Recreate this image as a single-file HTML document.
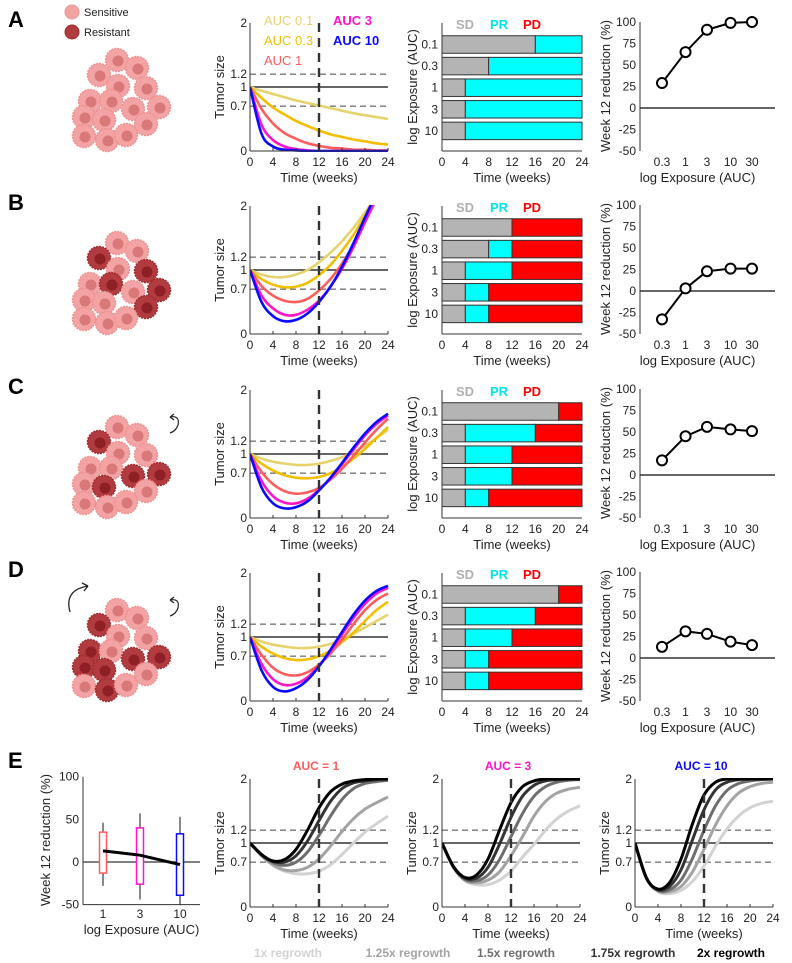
<!DOCTYPE html>
<html><head><meta charset="utf-8"><style>
html,body{margin:0;padding:0;background:#fff}
svg{display:block;font-family:"Liberation Sans",sans-serif}
</style></head><body>
<svg id="fig" width="792" height="963" viewBox="0 0 792 963" xmlns="http://www.w3.org/2000/svg"></svg>
<script>
// ---------- DATA ----------
const weeks = [0,2,4,6,8,10,12,14,16,18,20,22,24];
const aucLabels = ["AUC 0.1","AUC 0.3","AUC 1","AUC 3","AUC 10"];
const expCats = ["0.1","0.3","1","3","10"];
const redX = [0.3,1,3,10,30];
const redTicks = [100,75,50,25,0,-25,-50];
const tumorTicks = [0,0.7,1,1.2,2];
const timeTicks = [0,4,8,12,16,20,24];
// Row A
const tumorA_01 = [1,.94,.89,.84,.79,.75,.71,.67,.63,.59,.56,.53,.50];
const tumorA_03 = [1,.83,.68,.57,.47,.39,.32,.26,.22,.18,.15,.12,.10];
const tumorA_1  = [1,.66,.43,.28,.19,.12,.08,.05,.04,.02,.02,.01,.01];
const tumorA_3  = [1,.41,.17,.07,.03,.01,0,0,0,0,0,0,0];
const tumorA_10 = [1,.27,.07,.02,.01,0,0,0,0,0,0,0,0];
// Row B
const tumorB_01 = [1,.93,.89,.89,.93,1.0,1.12,1.27,1.45,1.66,1.9,2.15,2.4];
const tumorB_03 = [1,.86,.77,.73,.74,.8,.92,1.08,1.3,1.55,1.85,2.15,2.45];
const tumorB_1  = [1,.75,.6,.52,.5,.55,.68,.86,1.1,1.4,1.75,2.1,2.45];
const tumorB_3  = [1,.6,.4,.3,.3,.38,.52,.74,1.02,1.36,1.75,2.15,2.5];
const tumorB_10 = [1,.5,.28,.2,.22,.32,.5,.74,1.05,1.42,1.82,2.2,2.55];
// Row C
const tumorC_01 = [1,.93,.88,.85,.83,.83,.85,.89,.95,1.03,1.13,1.25,1.38];
const tumorC_03 = [1,.85,.74,.67,.63,.62,.64,.7,.8,.93,1.08,1.25,1.42];
const tumorC_1  = [1,.72,.53,.42,.38,.4,.47,.6,.77,.97,1.18,1.38,1.55];
const tumorC_3  = [1,.58,.34,.24,.23,.3,.44,.62,.84,1.07,1.29,1.47,1.6];
const tumorC_10 = [1,.48,.23,.15,.17,.26,.43,.63,.86,1.1,1.32,1.5,1.63];
// Row D
const tumorD_01 = [1,.93,.88,.85,.83,.83,.85,.89,.96,1.05,1.15,1.25,1.35];
const tumorD_03 = [1,.85,.74,.67,.64,.65,.7,.79,.92,1.07,1.25,1.42,1.55];
const tumorD_1  = [1,.72,.52,.42,.4,.45,.57,.74,.96,1.2,1.42,1.58,1.68];
const tumorD_3  = [1,.58,.34,.25,.27,.37,.55,.78,1.04,1.3,1.52,1.68,1.77];
const tumorD_10 = [1,.48,.22,.15,.2,.33,.54,.8,1.08,1.35,1.57,1.72,1.8];
// Response bars (weeks): SD ends, PR ends (PD rest)
const sdEndA = [16,8,4,4,4], prEndA = [24,24,24,24,24];
const sdEndB = [12,8,4,4,4], prEndB = [12,12,12,8,8];
const sdEndC = [20,4,4,4,4], prEndC = [20,16,12,12,8];
const sdEndD = [20,4,4,4,4], prEndD = [20,16,12,8,8];
// Week-12 reduction (%)
const redA = [29,65,91,99,100];
const redB = [-33,3,23,26,26];
const redC = [17,45,56,53,51];
const redD = [13,31,28,19,15];
// Row E box plot
const boxCats = ["1","3","10"];
const boxQ1 = [-13,-26,-39], boxQ3 = [35,40,33];
const boxLo = [-28,-44,-50], boxHi = [46,57,53];
const boxMean = [13,8,-3];
const boxTicks = [100,50,0,-50];
// Row E regrowth curves
const regrowLabels = ["1x regrowth","1.25x regrowth","1.5x regrowth","1.75x regrowth","2x regrowth"];
const e1_1x  = [1,.8,.65,.56,.52,.52,.56,.66,.82,1.0,1.17,1.3,1.42];
const e1_125 = [1,.8,.66,.58,.57,.62,.75,.95,1.18,1.38,1.53,1.63,1.72];
const e1_15  = [1,.81,.69,.65,.7,.86,1.12,1.42,1.68,1.85,1.93,1.96,1.98];
const e1_175 = [1,.82,.71,.7,.8,1.03,1.35,1.65,1.85,1.94,1.97,1.99,2];
const e1_2   = [1,.82,.72,.74,.9,1.2,1.55,1.8,1.92,1.97,1.99,2,2];
const e3_1x  = [1,.62,.41,.35,.35,.42,.56,.78,.98,1.2,1.38,1.5,1.58];
const e3_125 = [1,.62,.42,.38,.42,.55,.8,1.1,1.42,1.65,1.78,1.84,1.87];
const e3_15  = [1,.62,.43,.41,.5,.74,1.1,1.46,1.73,1.88,1.95,1.98,1.99];
const e3_175 = [1,.63,.45,.45,.62,.98,1.4,1.73,1.9,1.97,1.99,2,2];
const e3_2   = [1,.63,.46,.5,.75,1.2,1.63,1.88,1.97,2,2,2,2];
const e10_1x  = [1,.45,.24,.21,.26,.4,.64,.95,1.22,1.42,1.55,1.62,1.65];
const e10_125 = [1,.45,.25,.24,.32,.55,.9,1.28,1.58,1.78,1.88,1.93,1.95];
const e10_15  = [1,.45,.26,.27,.42,.76,1.2,1.58,1.82,1.93,1.97,1.99,2];
const e10_175 = [1,.45,.27,.32,.58,1.05,1.52,1.83,1.95,1.99,2,2,2];
const e10_2   = [1,.45,.28,.38,.75,1.3,1.75,1.95,2,2,2,2,2];

// ---------- STYLE ----------
const aucColors = ["#e6d36e","#f2bf00","#ff5c5c","#ff14c8","#0a0aff"];
const greyColors = ["#d2d2d2","#a3a3a3","#6e6e6e","#333333","#000000"];
const NS = "http://www.w3.org/2000/svg";
const svg = document.getElementById('fig');
let clipId = 0;
function mk(tag, attrs, parent, name, inter){
  const el = document.createElementNS(NS, tag);
  for (const k in attrs) el.setAttribute(k, attrs[k]);
  
  
  (parent || svg).appendChild(el);
  return el;
}
function txt(x,y,s,opts,parent,name){
  const a = Object.assign({x:x,y:y,'font-size':12,fill:'#222'}, opts||{});
  const t = mk('text', a, parent, name);
  t.textContent = s;
  return t;
}
function smoothPath(pts){
  let d = 'M'+pts[0][0].toFixed(1)+','+pts[0][1].toFixed(1);
  for (let i=0;i<pts.length-1;i++){
    const p0=pts[Math.max(0,i-1)],p1=pts[i],p2=pts[i+1],p3=pts[Math.min(pts.length-1,i+2)];
    const c1=[p1[0]+(p2[0]-p0[0])/6,p1[1]+(p2[1]-p0[1])/6];
    const c2=[p2[0]-(p3[0]-p1[0])/6,p2[1]-(p3[1]-p1[1])/6];
    d+=' C'+c1[0].toFixed(1)+','+c1[1].toFixed(1)+' '+c2[0].toFixed(1)+','+c2[1].toFixed(1)+' '+p2[0].toFixed(1)+','+p2[1].toFixed(1);
  }
  return d;
}

// ---------- TUMOR PLOT ----------
function tumorPlot(ox, y0, series, colors, name, title, titleColor, legend, lw){
  const g = mk('g', {}, svg, name);
  const W = 138, U = 64;
  const xs = t => ox + t/24*W;
  const ys = v => y0 - v*U;
  const id = 'c'+(clipId++);
  const cp = mk('clipPath', {id:id}, g, 'clip');
  mk('rect', {x:ox, y:ys(2)-1, width:W+2, height:2*U+2}, cp, 'clip-rect');
  mk('line', {x1:ox,x2:ox+W,y1:ys(1.2),y2:ys(1.2),stroke:'#777','stroke-width':1.3,'stroke-dasharray':'6,4'}, g, 'threshold-1-2');
  mk('line', {x1:ox,x2:ox+W,y1:ys(0.7),y2:ys(0.7),stroke:'#777','stroke-width':1.3,'stroke-dasharray':'6,4'}, g, 'threshold-0-7');
  mk('line', {x1:ox,x2:ox+W,y1:ys(1),y2:ys(1),stroke:'#333','stroke-width':1.5}, g, 'baseline-1');
  const cg = mk('g', {'clip-path':'url(#'+id+')'}, g, 'curves');
  series.forEach((s,i)=>{
    const pts = weeks.map((t,j)=>[xs(t), ys(s[j])]);
    mk('path', {d:smoothPath(pts), fill:'none', stroke:colors[i], 'stroke-width':lw||2.6}, cg, 'curve-'+i);
  });
  mk('line', {x1:xs(12),x2:xs(12),y1:ys(2),y2:y0,stroke:'#333','stroke-width':2.4,'stroke-dasharray':'9,6'}, g, 'week-12-line');
  mk('line', {x1:ox,x2:ox,y1:ys(2),y2:y0,stroke:'#333','stroke-width':1}, g, 'y-axis');
  mk('line', {x1:ox,x2:ox+W,y1:y0,y2:y0,stroke:'#333','stroke-width':1}, g, 'x-axis');
  tumorTicks.forEach(v=>{ txt(ox-3, ys(v)+4, String(v), {'text-anchor':'end'}, g, 'y-tick-label'); });
  timeTicks.forEach(v=>{
    mk('line',{x1:xs(v),x2:xs(v),y1:y0,y2:y0-3,stroke:'#333'},g,'x-tick');
    txt(xs(v), y0+15, String(v), {'text-anchor':'middle'}, g, 'x-tick-label');
  });
  txt(ox+W/2, y0+31, 'Time (weeks)', {'text-anchor':'middle','font-size':13}, g, 'x-axis-title');
  txt(0,0,'Tumor size',{'text-anchor':'middle','font-size':13,transform:'translate('+(ox-26)+','+(y0-64)+') rotate(-90)'},g,'y-axis-title');
  if (title) txt(ox+W/2-3, y0-137, title, {'text-anchor':'middle','font-size':12,'font-weight':'bold',fill:titleColor}, g, 'plot-title');
  if (legend){
    const pos=[[ox+14,y0-126],[ox+14,y0-106],[ox+14,y0-86],[ox+83,y0-126],[ox+83,y0-106]];
    legend.forEach((l,i)=>txt(pos[i][0],pos[i][1],l,{'font-size':13,'font-weight':i>2?'bold':'normal',fill:colors[i]},g,'legend-entry'));
  }
}

// ---------- BAR PLOT ----------
function barPlot(y0, sdEnd, prEnd, name){
  const g = mk('g', {}, svg, name);
  const ox = 442, W = 140;
  const xs = t => ox + t/24*W;
  txt(456, y0-122, 'SD', {'font-size':13,'font-weight':'bold',fill:'#b0b0b0'}, g, 'legend-sd');
  txt(490, y0-122, 'PR', {'font-size':13,'font-weight':'bold',fill:'#00e5e5'}, g, 'legend-pr');
  txt(523, y0-122, 'PD', {'font-size':13,'font-weight':'bold',fill:'#ff0000'}, g, 'legend-pd');
  expCats.forEach((c,i)=>{
    const cy = y0 - 106.5 + i*21.6, h = 17.5;
    mk('rect',{x:xs(0),y:cy-h/2,width:xs(sdEnd[i])-xs(0),height:h,fill:'#b4b4b4',stroke:'#333','stroke-width':1},g,'bar-sd-'+c);
    if (prEnd[i]>sdEnd[i]) mk('rect',{x:xs(sdEnd[i]),y:cy-h/2,width:xs(prEnd[i])-xs(sdEnd[i]),height:h,fill:'#00ffff',stroke:'#333','stroke-width':1},g,'bar-pr-'+c);
    if (24>prEnd[i]) mk('rect',{x:xs(prEnd[i]),y:cy-h/2,width:xs(24)-xs(prEnd[i]),height:h,fill:'#ff0000',stroke:'#333','stroke-width':1},g,'bar-pd-'+c);
    txt(ox-4, cy+4, c, {'text-anchor':'end','font-size':12}, g, 'y-tick-label');
  });
  mk('line',{x1:ox,x2:ox,y1:y0-128,y2:y0,stroke:'#333'},g,'y-axis');
  mk('line',{x1:ox,x2:ox+W,y1:y0,y2:y0,stroke:'#333'},g,'x-axis');
  timeTicks.forEach(v=>{ txt(xs(v), y0+15, String(v), {'text-anchor':'middle'}, g, 'x-tick-label'); });
  txt(ox+W/2, y0+31, 'Time (weeks)', {'text-anchor':'middle','font-size':13}, g, 'x-axis-title');
  txt(0,0,'log Exposure (AUC)',{'text-anchor':'middle','font-size':13,transform:'translate('+(ox-25)+','+(y0-64)+') rotate(-90)'},g,'y-axis-title');
}

// ---------- REDUCTION PLOT ----------
function redPlot(y0, vals, name){
  const g = mk('g', {}, svg, name);
  const ox = 640, W = 135;
  const xs = a => 662 + (Math.log10(a)-Math.log10(0.3))*45;
  const ys = v => (y0-43) - v*0.86;
  mk('line',{x1:ox,x2:ox,y1:ys(100),y2:ys(-50),stroke:'#333'},g,'y-axis');
  mk('line',{x1:ox,x2:ox+W,y1:ys(0),y2:ys(0),stroke:'#333','stroke-width':1.5},g,'zero-line');
  redTicks.forEach(v=>txt(ox-4, ys(v)+4, String(v), {'text-anchor':'end'}, g, 'y-tick-label'));
  redX.forEach(a=>txt(xs(a), y0+15, String(a), {'text-anchor':'middle'}, g, 'x-tick-label'));
  const pts = redX.map((a,i)=>xs(a)+','+ys(vals[i])).join(' ');
  mk('polyline',{points:pts,fill:'none',stroke:'#000','stroke-width':2},g,'reduction-line');
  redX.forEach((a,i)=>mk('circle',{cx:xs(a),cy:ys(vals[i]),r:5,fill:'#fff',stroke:'#000','stroke-width':2},g,'reduction-point'));
  txt(ox+W/2-10, y0+31, 'log Exposure (AUC)', {'text-anchor':'middle','font-size':13}, g, 'x-axis-title');
  txt(0,0,'Week 12 reduction (%)',{'text-anchor':'middle','font-size':13,transform:'translate(610,'+(y0-65)+') rotate(-90)'},g,'y-axis-title');
}

// ---------- CELLS ----------
const cellPos = [[117,60],[137,68],[99,75],[118,86],[146,88],[90,101],[111,101],[133,109],[159,107],[84,117],[104,120],[146,124],[84,136],[107,140],[126,135]];
function cells(dy, resist, name){
  const g = mk('g', {}, svg, name);
  cellPos.forEach((p,i)=>{
    const r = resist.indexOf(i)>=0;
    mk('circle',{cx:p[0],cy:p[1]+dy,r:11.5,fill:r?'#b23b3f':'#f3a3a3',stroke:r?'#9c2c30':'#ee9191','stroke-width':1.5,'stroke-dasharray':'2,1'},g,r?'resistant-cell':'sensitive-cell');
    mk('circle',{cx:p[0]+1,cy:p[1]+dy+1,r:5.5,fill:r?'#8e1f24':'#d87878'},g,'cell-nucleus');
  });
}

// ---------- BUILD ----------
const rowY = [151,334,518,701];
['A','B','C','D'].forEach((L,i)=>txt(8, rowY[i]-124, L, {'font-size':22,'font-weight':'bold',fill:'#000'}, svg, 'panel-label-'+L));
txt(8, 768, 'E', {'font-size':22,'font-weight':'bold',fill:'#000'}, svg, 'panel-label-E');

mk('circle',{cx:72,cy:12,r:7,fill:'#f3a3a3',stroke:'#ee9191'},svg,'sensitive-legend-icon');
mk('circle',{cx:72,cy:32,r:7,fill:'#b23b3f',stroke:'#9c2c30'},svg,'resistant-legend-icon');
txt(84,16,'Sensitive',{'font-size':11},svg,'sensitive-legend-label');
txt(84,36,'Resistant',{'font-size':11},svg,'resistant-legend-label');

cells(0, [], 'cells-a');
cells(183, [2,6,8,11,4], 'cells-b');
cells(367, [2,8,7,10], 'cells-c');
cells(550, [2,8,7,10,9,13,5], 'cells-d');
mk('path',{d:'M170,417 q10,-2 8,8 q-2,6 -8,8 M170,417 l4,-3 M170,417 l4,3',fill:'none',stroke:'#222','stroke-width':1.2},svg,'feedback-arrow-c');
mk('path',{d:'M170,600 q10,-2 8,8 q-2,6 -8,8 M170,600 l4,-3 M170,600 l4,3',fill:'none',stroke:'#222','stroke-width':1.2},svg,'feedback-arrow-d');
mk('path',{d:'M70,612 q-6,-22 18,-26 M88,586 l-6,-3 M88,586 l-4,5',fill:'none',stroke:'#222','stroke-width':1.3},svg,'migration-arrow-d');

tumorPlot(250, rowY[0], [tumorA_01,tumorA_03,tumorA_1,tumorA_3,tumorA_10], aucColors, 'tumor-plot-a', null, null, aucLabels);
tumorPlot(250, rowY[1], [tumorB_01,tumorB_03,tumorB_1,tumorB_3,tumorB_10], aucColors, 'tumor-plot-b');
tumorPlot(250, rowY[2], [tumorC_01,tumorC_03,tumorC_1,tumorC_3,tumorC_10], aucColors, 'tumor-plot-c');
tumorPlot(250, rowY[3], [tumorD_01,tumorD_03,tumorD_1,tumorD_3,tumorD_10], aucColors, 'tumor-plot-d');
barPlot(rowY[0], sdEndA, prEndA, 'response-bars-a');
barPlot(rowY[1], sdEndB, prEndB, 'response-bars-b');
barPlot(rowY[2], sdEndC, prEndC, 'response-bars-c');
barPlot(rowY[3], sdEndD, prEndD, 'response-bars-d');
redPlot(rowY[0], redA, 'reduction-plot-a');
redPlot(rowY[1], redB, 'reduction-plot-b');
redPlot(rowY[2], redC, 'reduction-plot-c');
redPlot(rowY[3], redD, 'reduction-plot-d');

(function(){
  const g = mk('g', {}, svg, 'box-plot-e');
  const ox = 83, W = 117;
  const cx = [103,140,180];
  const ys = v => 862 - v*0.853;
  const bc = ["#ff5c5c","#ff14c8","#0a0aff"];
  mk('line',{x1:ox,x2:ox,y1:ys(100),y2:ys(-50),stroke:'#333'},g,'y-axis');
  mk('line',{x1:ox,x2:ox+W,y1:ys(-50),y2:ys(-50),stroke:'#333'},g,'x-axis');
  mk('line',{x1:ox,x2:ox+W,y1:ys(0),y2:ys(0),stroke:'#555','stroke-width':1.5},g,'zero-line');
  boxTicks.forEach(v=>txt(ox-4, ys(v)+4, String(v), {'text-anchor':'end'}, g, 'y-tick-label'));
  boxCats.forEach((c,i)=>{
    mk('line',{x1:cx[i],x2:cx[i],y1:ys(boxHi[i]),y2:ys(boxLo[i]),stroke:'#111','stroke-width':1},g,'whisker-'+c);
    mk('rect',{x:cx[i]-3.5,y:ys(boxQ3[i]),width:7,height:ys(boxQ1[i])-ys(boxQ3[i]),fill:'#fff',stroke:bc[i],'stroke-width':1.5},g,'box-'+c);
    txt(cx[i], 918, c, {'text-anchor':'middle','font-size':12}, g, 'x-tick-label');
  });
  mk('polyline',{points:cx.map((x,i)=>x+','+ys(boxMean[i])).join(' '),fill:'none',stroke:'#000','stroke-width':3},g,'mean-line');
  txt(ox+W/2, 934, 'log Exposure (AUC)', {'text-anchor':'middle','font-size':13}, g, 'x-axis-title');
  txt(0,0,'Week 12 reduction (%)',{'text-anchor':'middle','font-size':13,transform:'translate(50,840) rotate(-90)'},g,'y-axis-title');
})();

tumorPlot(250, 907, [e1_1x,e1_125,e1_15,e1_175,e1_2], greyColors, 'regrowth-plot-auc1', 'AUC = 1', '#ff5c5c', null, 3);
tumorPlot(442, 907, [e3_1x,e3_125,e3_15,e3_175,e3_2], greyColors, 'regrowth-plot-auc3', 'AUC = 3', '#ff14c8', null, 3);
tumorPlot(635, 907, [e10_1x,e10_125,e10_15,e10_175,e10_2], greyColors, 'regrowth-plot-auc10', 'AUC = 10', '#0a0aff', null, 3);
const legX = [288,408,516,633,731];
regrowLabels.forEach((l,i)=>txt(legX[i], 957, l, {'text-anchor':'middle','font-size':12,'font-weight':'bold',fill:greyColors[i]}, svg, 'regrowth-legend-entry'));
</script>
</body></html>
